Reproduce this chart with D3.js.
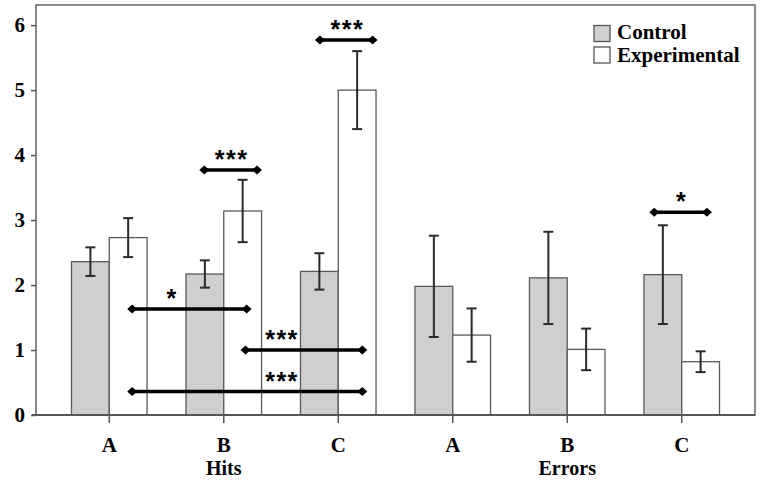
<!DOCTYPE html>
<html>
<head>
<meta charset="utf-8">
<script src="https://cdn.jsdelivr.net/npm/d3@7/dist/d3.min.js"></script>
<style>
  html, body { margin: 0; padding: 0; background: #fff; }
  svg { display: block; }
  text { font-family: "Liberation Serif", "Times New Roman", serif; font-weight: bold; fill: #000; }
  .star { font-family: "Liberation Sans", Arial, sans-serif; }
</style>
</head>
<body>
<svg id="chart" width="765" height="480"></svg>
<script>
// ---- data ----
const categories = ["Hits-A", "Hits-B", "Hits-C", "Errors-A", "Errors-B", "Errors-C"];
const categoryLabels = ["A", "B", "C", "A", "B", "C"];
const groups = [{ name: "Hits", center: "Hits-B" }, { name: "Errors", center: "Errors-B" }];
const seriesNames = ["Control", "Experimental"];
const controlValues = [2.36, 2.17, 2.21, 1.98, 2.11, 2.16];
const controlErrors = [0.22, 0.21, 0.28, 0.78, 0.71, 0.76];
const experimentalValues = [2.73, 3.14, 5.00, 1.23, 1.01, 0.82];
const experimentalErrors = [0.30, 0.48, 0.60, 0.41, 0.32, 0.16];
const yTicks = [0, 1, 2, 3, 4, 5, 6];
// significance brackets: positions in category-index units (0 = first category centre)
const brackets = [
  { x1: 0.83, x2: 1.29, y: 3.77, label: "***", labelX: 1.06 },
  { x1: 1.84, x2: 2.30, y: 5.77, label: "***", labelX: 2.07 },
  { x1: 0.20, x2: 1.20, y: 1.63, label: "*",   labelX: 0.54 },
  { x1: 1.19, x2: 2.21, y: 1.00, label: "***", labelX: 1.50 },
  { x1: 0.20, x2: 2.21, y: 0.36, label: "***", labelX: 1.50 },
  { x1: 4.76, x2: 5.22, y: 3.12, label: "*",   labelX: 4.99 }
];

// ---- layout ----
const mLeft = 36, mRight = 755, mTop = 5, mBottom = 415;
const svg = d3.select("#chart");

const x = d3.scaleBand().domain(categories).range([mLeft, mRight])
  .paddingInner(0.34).paddingOuter(0.31);
const y = d3.scaleLinear().domain([0, 6.31]).range([mBottom, mTop]);
const bw = x.bandwidth();
const center = c => x(c) + bw / 2;
const xu = d3.scaleLinear().domain([0, 1]).range([center(categories[0]), center(categories[1])]);

// frame
svg.append("rect").attr("x", mLeft).attr("y", mTop)
  .attr("width", mRight - mLeft).attr("height", mBottom - mTop)
  .attr("fill", "none").attr("stroke", "#6b6b6b").attr("stroke-width", 1.6);

// y axis
const yAxis = svg.append("g").attr("transform", `translate(${mLeft},0)`)
  .call(d3.axisLeft(y).tickValues(yTicks).tickFormat(d3.format("d")).tickSize(5).tickPadding(6));
yAxis.select(".domain").remove();
yAxis.selectAll(".tick line").attr("stroke", "#555").attr("stroke-width", 1.5);
yAxis.selectAll(".tick text").style("font-size", "21px")
  .style("font-family", "'Liberation Serif','Times New Roman',serif").style("font-weight", "bold");

// bars
const ser = [
  { name: seriesNames[0], vals: controlValues, errs: controlErrors, fill: "#cfcfcf", off: 0 },
  { name: seriesNames[1], vals: experimentalValues, errs: experimentalErrors, fill: "#ffffff", off: 1 }
];
ser.forEach(s => {
  const g = svg.append("g");
  g.selectAll("rect").data(categories).join("rect")
    .attr("x", c => x(c) + s.off * bw / 2)
    .attr("y", (c, i) => y(s.vals[i]))
    .attr("width", bw / 2)
    .attr("height", (c, i) => y(0) - y(s.vals[i]))
    .attr("fill", s.fill).attr("stroke", "#5a5a5a").attr("stroke-width", 1.3);
});
// error bars
ser.forEach(s => {
  const g = svg.append("g").attr("stroke", "#2a2a2a").attr("stroke-width", 2);
  categories.forEach((c, i) => {
    const cx = x(c) + s.off * bw / 2 + bw / 4;
    const hi = y(s.vals[i] + s.errs[i]), lo = y(s.vals[i] - s.errs[i]);
    g.append("line").attr("x1", cx).attr("x2", cx).attr("y1", hi).attr("y2", lo);
    g.append("line").attr("x1", cx - 5).attr("x2", cx + 5).attr("y1", hi).attr("y2", hi);
    g.append("line").attr("x1", cx - 5).attr("x2", cx + 5).attr("y1", lo).attr("y2", lo);
  });
});

// bottom axis line + ticks
svg.append("line").attr("x1", mLeft - 4).attr("x2", mRight).attr("y1", mBottom).attr("y2", mBottom)
  .attr("stroke", "#555").attr("stroke-width", 1.8);
const xAxis = svg.append("g").attr("transform", `translate(0,${mBottom})`)
  .call(d3.axisBottom(x).tickSize(8).tickPadding(14).tickFormat((d, i) => categoryLabels[i]));
xAxis.select(".domain").remove();
xAxis.selectAll(".tick line").attr("stroke", "#555").attr("stroke-width", 1.5);
xAxis.selectAll(".tick text").style("font-size", "21px")
  .style("font-family", "'Liberation Serif','Times New Roman',serif").style("font-weight", "bold")
  .attr("dy", "0.71em");

// group labels
svg.selectAll(".grp").data(groups).join("text").attr("class", "grp")
  .attr("x", d => center(d.center)).attr("y", 475)
  .attr("text-anchor", "middle").style("font-size", "20px").text(d => d.name);

// significance brackets
const bg = svg.append("g");
brackets.forEach(b => {
  const yy = y(b.y), xa = xu(b.x1), xb = xu(b.x2);
  bg.append("line").attr("x1", xa).attr("x2", xb).attr("y1", yy).attr("y2", yy)
    .attr("stroke", "#000").attr("stroke-width", 3.5);
  [xa, xb].forEach(px => {
    bg.append("path").attr("d", `M${px - 5},${yy} L${px},${yy - 4.5} L${px + 5},${yy} L${px},${yy + 4.5} Z`)
      .attr("fill", "#000");
  });
  bg.append("text").attr("class", "star").attr("x", xu(b.labelX) + 1).attr("y", yy - 2)
    .attr("text-anchor", "middle").style("font-size", "25px").style("letter-spacing", "1.5px")
    .text(b.label);
});

// legend
const lg = svg.append("g");
ser.forEach((s, i) => {
  lg.append("rect").attr("x", 594).attr("y", 25.5 + i * 21.5).attr("width", 16).attr("height", 16)
    .attr("fill", s.fill).attr("stroke", "#555").attr("stroke-width", 1.3);
  lg.append("text").attr("x", 617).attr("y", 38.5 + i * 23.5).style("font-size", "21px").text(s.name);
});
</script>
</body>
</html>
